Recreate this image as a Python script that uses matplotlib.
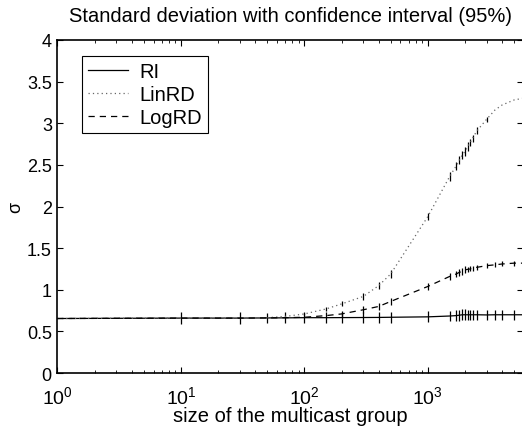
import matplotlib
matplotlib.use("Agg")
import matplotlib.pyplot as plt
from matplotlib.lines import Line2D
import numpy as np

plt.rcParams['font.family'] = ['Liberation Sans', 'DejaVu Sans']

# group sizes where the simulations were run
group_size = [1, 10, 30, 50, 70, 100, 150, 200, 300, 400, 500, 1000, 1500, 1700,
              1800, 1900, 2000, 2100, 2200, 2300, 2500, 3000, 3500, 4000, 5000, 5900]

ri = [0.655, 0.66, 0.66, 0.662, 0.663, 0.665, 0.665, 0.666, 0.667, 0.668, 0.67, 0.675,
      0.685, 0.69, 0.695, 0.70, 0.70, 0.70, 0.70, 0.70, 0.70, 0.698, 0.70, 0.70, 0.70, 0.70]
ri_err = [0.0, 0.07, 0.07, 0.065, 0.065, 0.065, 0.065, 0.065, 0.065, 0.065, 0.065, 0.065,
          0.065, 0.065, 0.065, 0.065, 0.065, 0.06, 0.06, 0.06, 0.06, 0.06, 0.06, 0.06, 0.06, 0.05]

linrd = [0.655, 0.66, 0.66, 0.665, 0.68, 0.71, 0.77, 0.83, 0.92, 1.05, 1.19, 1.88,
         2.36, 2.49, 2.56, 2.62, 2.66, 2.72, 2.77, 2.82, 2.91, 3.05, 3.16, 3.22, 3.28, 3.30]
linrd_err = [0.0, 0.0, 0.0, 0.0, 0.0, 0.01, 0.02, 0.03, 0.04, 0.04, 0.045, 0.045,
             0.05, 0.05, 0.05, 0.05, 0.05, 0.05, 0.04, 0.04, 0.04, 0.03, 0.0, 0.0, 0.0, 0.0]

logrd = [0.655, 0.66, 0.66, 0.662, 0.665, 0.67, 0.69, 0.71, 0.76, 0.80, 0.86, 1.04,
         1.16, 1.19, 1.21, 1.22, 1.24, 1.245, 1.25, 1.26, 1.27, 1.29, 1.30, 1.31, 1.32, 1.32]
logrd_err = [0.0, 0.0, 0.0, 0.0, 0.0, 0.0, 0.0, 0.04, 0.04, 0.04, 0.04, 0.04,
             0.04, 0.04, 0.04, 0.04, 0.04, 0.03, 0.03, 0.03, 0.03, 0.03, 0.03, 0.03, 0.03, 0.0]

fig = plt.figure(figsize=(5.22, 4.27), dpi=100)
ax = fig.add_axes([0.110, 0.124, 0.892, 0.780])

dot = (0, (1, 2.5))
dash = (0, (5, 4))
ax.errorbar(group_size, ri, yerr=ri_err, color='black', lw=0.9, ls='-',
            elinewidth=0.9, capsize=0)
ax.errorbar(group_size, linrd, yerr=linrd_err, color='0.4', lw=0.9, ls=dot,
            ecolor='black', elinewidth=0.9, capsize=0)
ax.errorbar(group_size, logrd, yerr=logrd_err, color='black', lw=0.9, ls=dash,
            elinewidth=0.9, capsize=0)

ax.set_xscale('log')
ax.set_xlim(1, 5900)
ax.set_ylim(0, 4)
ax.set_yticks(np.arange(0, 4.01, 0.5))
ax.set_yticklabels(['0', '0.5', '1', '1.5', '2', '2.5', '3', '3.5', '4'])

ax.tick_params(which='both', direction='in', top=True, right=True)
ax.tick_params(axis='y', labelsize=13, pad=4)
ax.tick_params(axis='x', labelsize=14, pad=9)
ax.tick_params(which='major', length=4, width=0.8)
ax.tick_params(which='minor', length=2, width=0.6)
for s in ax.spines.values():
    s.set_linewidth(1.2)

ax.set_title('Standard deviation with confidence interval (95%)', fontsize=14.5, pad=14)
ax.set_xlabel('size of the multicast group', fontsize=14.5, labelpad=-1)
ax.set_ylabel('σ', fontsize=13, labelpad=2)

# legend shows plain line styles (no error bar glyphs)
handles = [Line2D([], [], color='black', lw=0.9, ls='-'),
           Line2D([], [], color='0.4', lw=0.9, ls=dot),
           Line2D([], [], color='black', lw=0.9, ls=dash)]
leg = ax.legend(handles, ['RI', 'LinRD', 'LogRD'], loc='upper left',
                bbox_to_anchor=(0.0525, 0.952), fontsize=14.5,
                frameon=True, fancybox=False, edgecolor='black', framealpha=1,
                handlelength=2.0, handletextpad=0.55, borderpad=0.3,
                labelspacing=0.2, borderaxespad=0)
leg.get_frame().set_linewidth(0.8)

plt.savefig('out.png', dpi=100)
